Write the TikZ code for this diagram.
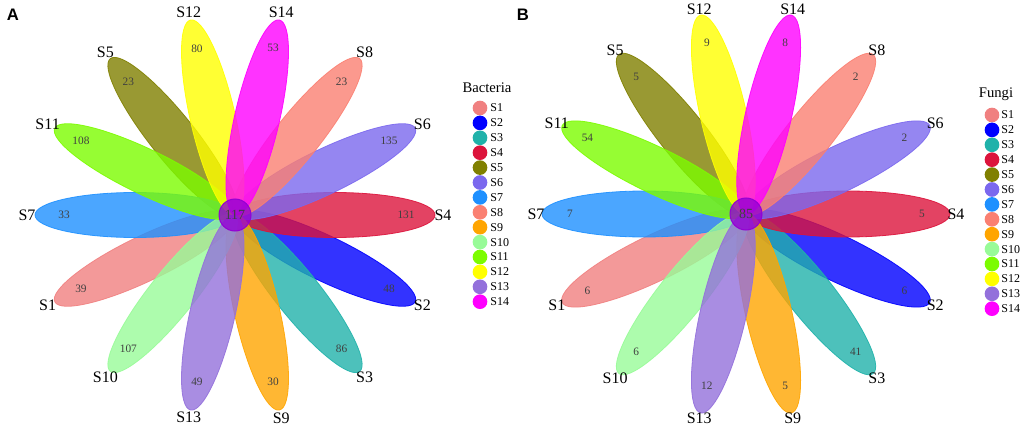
\documentclass[tikz,border=0pt]{standalone}
\usepackage{fontspec}
\setmainfont{Liberation Serif}
\setsansfont{Liberation Sans}
\usetikzlibrary{positioning}

\definecolor{cS1}{HTML}{F08080}
\definecolor{cS2}{HTML}{0000FF}
\definecolor{cS3}{HTML}{20B2AA}
\definecolor{cS4}{HTML}{DC143C}
\definecolor{cS5}{HTML}{808000}
\definecolor{cS6}{HTML}{7B68EE}
\definecolor{cS7}{HTML}{1E90FF}
\definecolor{cS8}{HTML}{FA8072}
\definecolor{cS9}{HTML}{FFA500}
\definecolor{cS10}{HTML}{98FB98}
\definecolor{cS11}{HTML}{7CFC00}
\definecolor{cS12}{HTML}{FFFF00}
\definecolor{cS13}{HTML}{9370DB}
\definecolor{cS14}{HTML}{FF00FF}
\definecolor{hubcol}{HTML}{9400D3}
\definecolor{numgray}{HTML}{404040}

\tikzset{every picture/.style={line width=0.75pt}}
\tikzset{
  petal/.style={fill opacity=0.8, draw opacity=0.9, line width=0.6pt},
  hubdisk/.style={circle, minimum size=24pt, inner sep=0pt, fill=hubcol, fill opacity=0.8, draw=hubcol, text opacity=1, text=numgray, font=\fontsize{10.5}{12}\selectfont},
  sname/.style={inner sep=0.75pt, font=\fontsize{12}{14}\selectfont},
  numtext/.style={inner sep=0.75pt, text=numgray, font=\fontsize{8.5}{10}\selectfont},
  keydot/.style={circle, minimum size=11pt, inner sep=0pt},
  keytxt/.style={inner sep=0pt, font=\fontsize{9}{10}\selectfont},
  keyhead/.style={inner sep=0.75pt, font=\fontsize{11}{13}\selectfont},
  panel/.style={inner sep=0.75pt, font=\sffamily\bfseries\fontsize{12.5}{14}\selectfont}
}

\begin{document}
\begin{tikzpicture}[x=0.75pt,y=0.75pt,yscale=-1,xscale=1]
\useasboundingbox (0,0) rectangle (1021,428);

% flower centres
\coordinate (a-c) at (235,215);
\coordinate (b-c) at (746,214);

% petals, labels and counts: name / position round the flower / Bacteria / Fungi
\foreach \s/\k/\na/\nb in {S1/8/39/6, S2/13/48/6, S3/12/86/41, S4/0/131/5, S5/5/23/5, S6/1/135/2, S7/7/33/7, S8/2/23/2, S9/11/30/5, S10/9/107/6, S11/6/108/54, S12/4/80/9, S13/10/49/12, S14/3/53/8}{
  \pgfmathsetmacro{\ang}{\k*360/14}
  % Bacteria
  \begin{scope}[shift={(a-c)}, rotate=-\ang]
    \filldraw [petal, draw=c\s, fill=c\s] (100,0) ellipse (100 and 22.5);
  \end{scope}
  \node [sname] (a-lab-\s) at ([shift={(-\ang:208)}]a-c) {\s};
  \node [numtext] (a-num-\s) at ([shift={(-\ang:171)}]a-c) {\na};
  % Fungi
  \begin{scope}[shift={(b-c)}, rotate=-\ang]
    \filldraw [petal, draw=c\s, fill=c\s] (102,0) ellipse (102 and 23);
  \end{scope}
  \node [sname] (b-lab-\s) at ([shift={(-\ang:210)}]b-c) {\s};
  \node [numtext] (b-num-\s) at ([shift={(-\ang:176)}]b-c) {\nb};
}

% core
\node [hubdisk] (a-hub) at (a-c) {117};
\node [hubdisk] (b-hub) at (b-c) {85};

% panel letters
\node [panel] (a-panel) at (13,15) {A};
\node [panel] (b-panel) at (523,15) {B};

% legends
\node [keyhead] (a-head) at (487,88) {Bacteria};
\node [keyhead] (b-head) at (996,94) {Fungi};
\foreach \s [count=\i] in {S1,S2,S3,S4,S5,S6,S7,S8,S9,S10,S11,S12,S13,S14}{
  \node [keydot, fill=c\s] (a-key-\i) at (480,{108+14.9*(\i-1)}) {};
  \node [keytxt, right=1.5pt of a-key-\i] (a-keytxt-\i) {\s};
  \node [keydot, fill=c\s] (b-key-\i) at (992,{115+14.9*(\i-1)}) {};
  \node [keytxt, right=0.75pt of b-key-\i] (b-keytxt-\i) {\s};
}

\end{tikzpicture}
\end{document}
